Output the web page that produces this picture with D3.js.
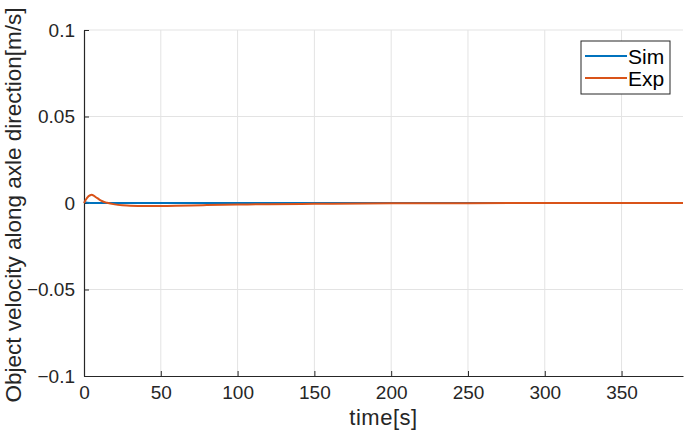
<!DOCTYPE html>
<html>
<head>
<meta charset="utf-8">
<script src="https://cdn.jsdelivr.net/npm/d3@7"></script>
<style>
  body { margin: 0; background: #fff; }
  text { font-family: "Liberation Sans", Arial, sans-serif; }
</style>
</head>
<body>
<div id="chart"></div>
<script>
// data
var xTicks = [0, 50, 100, 150, 200, 250, 300, 350];
var yTicks = [-0.1, -0.05, 0, 0.05, 0.1];
var yTickLabels = ["\u22120.1", "\u22120.05", "0", "0.05", "0.1"];

var simTime = [0, 1, 2, 4, 390];
var simVel = [0.0006, 0.0004, 0.0001, 0, 0];

var expTime = [0, 2, 4, 5, 6, 8, 10, 12, 15, 20, 25, 30, 40, 50, 60, 70, 80, 100, 120, 150, 200, 250, 300, 390];
var expVel = [0, 0.003, 0.0045, 0.0047, 0.0044, 0.0032, 0.002, 0.001, 0.0001, -0.0008, -0.0013, -0.0016, -0.0017, -0.0017, -0.0016, -0.0014, -0.0012, -0.0009, -0.0007, -0.0005, -0.0002, -0.0001, 0, 0];

var seriesNames = ["Sim", "Exp"];
var colors = ["#0072BD", "#D95319"];

// set the dimensions and margins of the graph
var margin = {top: 30, right: 2, bottom: 58, left: 84},
    width = 685 - margin.left - margin.right,
    height = 434 - margin.top - margin.bottom;

var svg = d3.select("#chart")
  .append("svg")
    .attr("width", 685)
    .attr("height", 434)
  .append("g")
    .attr("transform", "translate(" + margin.left + "," + margin.top + ")");

var x = d3.scaleLinear().domain([0, 390]).range([0, width]);
var y = d3.scaleLinear().domain([-0.1, 0.1]).range([height, 0]);

// grid
svg.append("g")
  .selectAll("line")
  .data(xTicks.slice(1))
  .enter().append("line")
    .attr("x1", function(d) { return x(d); })
    .attr("x2", function(d) { return x(d); })
    .attr("y1", 0).attr("y2", height)
    .attr("stroke", "#e3e3e3").attr("stroke-width", 1);
svg.append("g")
  .selectAll("line")
  .data(yTicks.slice(1))
  .enter().append("line")
    .attr("x1", 0).attr("x2", width)
    .attr("y1", function(d) { return y(d); })
    .attr("y2", function(d) { return y(d); })
    .attr("stroke", "#e3e3e3").attr("stroke-width", 1);

// axes
var xAxis = svg.append("g")
  .attr("transform", "translate(0," + height + ")")
  .call(d3.axisBottom(x).tickValues(xTicks).tickSizeInner(-5).tickSizeOuter(0).tickPadding(10));
var yAxis = svg.append("g")
  .call(d3.axisLeft(y).tickValues(yTicks).tickSizeInner(-5).tickSizeOuter(0).tickPadding(9)
    .tickFormat(function(d, i) { return yTickLabels[i]; }));

[xAxis, yAxis].forEach(function(a) {
  a.select(".domain").attr("stroke", "#262626").attr("stroke-width", 1.2);
  a.selectAll(".tick line").attr("stroke", "#262626");
  a.selectAll("text")
    .attr("fill", "#262626")
    .style("font-size", "19px")
    .style("font-family", "'Liberation Sans', Arial, sans-serif");
});

// lines
var line = d3.line()
  .x(function(d) { return x(d[0]); })
  .y(function(d) { return y(d[1]); });

var simData = simTime.map(function(t, i) { return [t, simVel[i]]; });
var expData = expTime.map(function(t, i) { return [t, expVel[i]]; });

svg.append("path")
  .datum(simData)
  .attr("fill", "none")
  .attr("stroke", colors[0])
  .attr("stroke-width", 2)
  .attr("d", line);

svg.append("path")
  .datum(expData)
  .attr("fill", "none")
  .attr("stroke", colors[1])
  .attr("stroke-width", 2)
  .attr("d", line.curve(d3.curveMonotoneX));

// axis labels
svg.append("text")
  .attr("x", x(195))
  .attr("y", 425 - margin.top)
  .attr("text-anchor", "middle")
  .attr("fill", "#262626")
  .style("font-size", "22px")
  .style("letter-spacing", "0.5px")
  .text("time[s]");

svg.append("text")
  .attr("transform", "rotate(-90)")
  .attr("x", -(205 - margin.top))
  .attr("y", -margin.left + 21)
  .attr("text-anchor", "middle")
  .attr("fill", "#262626")
  .style("font-size", "22.5px")
  .text("Object velocity along axle direction[m/s]");

// legend
var legend = svg.append("g")
  .attr("transform", "translate(" + (581 - margin.left) + "," + (41 - margin.top) + ")");
legend.append("rect")
  .attr("width", 89).attr("height", 53)
  .attr("fill", "#fff")
  .attr("stroke", "#262626").attr("stroke-width", 1);
seriesNames.forEach(function(name, i) {
  var g = legend.append("g").attr("transform", "translate(0," + (15 + i * 22) + ")");
  g.append("line")
    .attr("x1", 4).attr("x2", 46)
    .attr("y1", 0).attr("y2", 0)
    .attr("stroke", colors[i]).attr("stroke-width", 2);
  g.append("text")
    .attr("x", 47).attr("y", 7.5)
    .attr("fill", "#000")
    .style("font-size", "21px")
    .text(name);
});
</script>
</body>
</html>
